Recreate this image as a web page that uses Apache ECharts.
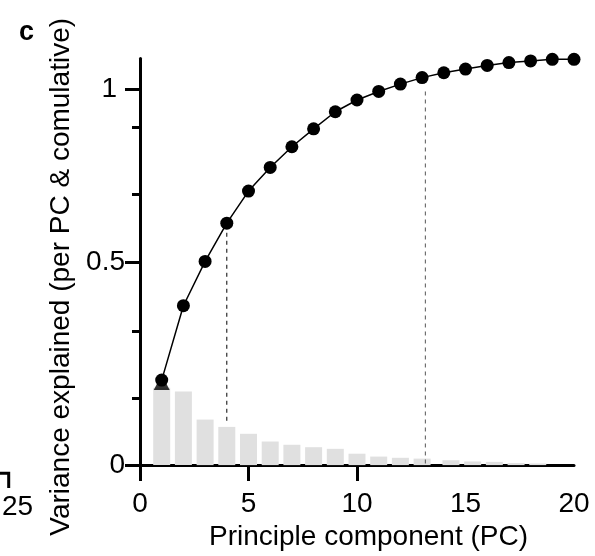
<!DOCTYPE html>
<html>
<head>
<meta charset="utf-8">
<script src="https://cdn.jsdelivr.net/npm/echarts@6/dist/echarts.min.js"></script>
<style>
  html, body { margin: 0; padding: 0; background: #ffffff; }
  #chart { width: 595px; height: 556px; }
</style>
</head>
<body>
<div id="chart"></div>
<script>
// ---- data ----
const pcNumbers = [1,2,3,4,5,6,7,8,9,10,11,12,13,14,15,16,17,18,19,20];
const cumulativeVariance = [0.209,0.392,0.501,0.595,0.674,0.732,0.783,0.827,0.869,0.898,
                            0.919,0.937,0.953,0.965,0.974,0.983,0.990,0.994,0.998,0.998];
const barPositions = [1,2,3,4,5,6,7,8,9,10,11,12,13,14.33,15.33,16.33,17.33,18.33];
const perPcVariance = [0.190,0.181,0.112,0.094,0.077,0.058,0.050,0.044,0.040,0.028,
                       0.021,0.018,0.016,0.012,0.009,0.008,0.005,0.004];
const pc1Marker = [[1, 0.203]];
const dashedLineA = [[4, 0.109], [4, 0.595]];
const dashedLineB = [[13.15, 0.004], [13.15, 0.925]];
const xTickValues = [0, 5, 10];
const xLabelValues = [0, 5, 10, 15, 20];
const yMajorTickValues = [0, 0.5, 0.924];
const yMajorTickLabels = ['0', '0.5', '1'];
const yMinorTickValues = [0.165, 0.33, 0.665, 0.832];

const FONT = '"Liberation Sans", Arial, Helvetica, sans-serif';

const chart = echarts.init(document.getElementById('chart'), null, { renderer: 'canvas' });

const option = {
  backgroundColor: '#ffffff',
  animation: false,
  textStyle: { fontFamily: FONT },
  grid: { left: 140, right: 21, top: 58.5, bottom: 89.5, containLabel: false },
  xAxis: {
    type: 'value', min: 0, max: 20,
    name: 'Principle component (PC)',
    nameLocation: 'middle', nameGap: 57,
    nameTextStyle: { fontFamily: FONT, fontSize: 28, color: '#000', padding: [0, 0, 0, 23] },
    axisLine: { show: true, onZero: false, lineStyle: { color: '#000', width: 3 } },
    axisTick: { show: true, inside: false, length: 16, lineStyle: { color: '#000', width: 3 }, customValues: xTickValues },
    axisLabel: { show: true, margin: 25, fontFamily: FONT, fontSize: 28, color: '#000', customValues: xLabelValues },
    splitLine: { show: false }
  },
  yAxis: [
    {
      type: 'value', min: 0, max: 1, position: 'left',
      name: 'Variance explained (per PC & comulative)',
      nameLocation: 'middle', nameGap: 64, nameRotate: 90,
      nameTextStyle: { fontFamily: FONT, fontSize: 28, color: '#000', padding: [0, 30, 0, 0] },
      axisLine: { show: true, onZero: false, lineStyle: { color: '#000', width: 3 } },
      axisTick: { show: true, inside: false, length: 15, lineStyle: { color: '#000', width: 3 }, customValues: yMajorTickValues },
      axisLabel: {
        show: true, margin: 15, fontFamily: FONT, fontSize: 28, color: '#000',
        customValues: yMajorTickValues,
        formatter: function (v) {
          let idx = 0, best = Infinity;
          yMajorTickValues.forEach(function (t, i) { const d = Math.abs(t - v); if (d < best) { best = d; idx = i; } });
          return idx === yMajorTickValues.length - 1 ? '{one|' + yMajorTickLabels[idx] + '}' : yMajorTickLabels[idx];
        },
        rich: { one: { fontFamily: FONT, fontSize: 28, color: '#000', padding: [0, 8, 0, 0] } }
      },
      splitLine: { show: false }
    },
    {
      type: 'value', min: 0, max: 1, position: 'left', offset: 0,
      axisLine: { show: false },
      axisTick: { show: true, inside: false, length: 8, lineStyle: { color: '#000', width: 3 }, customValues: yMinorTickValues },
      axisLabel: { show: false },
      splitLine: { show: false }
    }
  ],
  series: [
    {
      name: 'per PC', type: 'bar', xAxisIndex: 0, yAxisIndex: 0,
      data: barPositions.map(function (x, i) { return [x, perPcVariance[i]]; }),
      barWidth: 17,
      itemStyle: { color: '#e0e0e0' },
      z: 1
    },
    {
      name: 'dashA', type: 'line', data: dashedLineA, symbol: 'none',
      lineStyle: { color: '#000', width: 1, type: [4, 4] }, z: 2
    },
    {
      name: 'dashB', type: 'line', data: dashedLineB, symbol: 'none',
      lineStyle: { color: '#555', width: 1, type: [4, 4] }, z: 2
    },
    {
      name: 'pc1', type: 'scatter', data: pc1Marker, symbol: 'triangle', symbolSize: [16, 15],
      itemStyle: { color: '#000' }, z: 4
    },
    {
      name: 'cumulative', type: 'line',
      data: pcNumbers.map(function (x, i) { return [x, cumulativeVariance[i]]; }),
      symbol: 'circle', symbolSize: 13, showSymbol: true,
      lineStyle: { color: '#000', width: 1.5 },
      itemStyle: { color: '#000', borderWidth: 0 },
      z: 5
    }
  ],
  graphic: [
    { type: 'text', x: 19, y: 33, style: { text: 'c', fontFamily: FONT, fontSize: 27, fontWeight: 'bold', fill: '#000', verticalAlign: 'middle', align: 'left' } },
    { type: 'text', x: 2, y: 507, style: { text: '25', fontFamily: FONT, fontSize: 28, fill: '#000', verticalAlign: 'middle', align: 'left' } },
    { type: 'polyline', shape: { points: [[0, 473.3], [8.7, 473.3], [8.7, 488]] }, style: { stroke: '#000', lineWidth: 3, fill: null } }
  ]
};

chart.setOption(option);
</script>
</body>
</html>
